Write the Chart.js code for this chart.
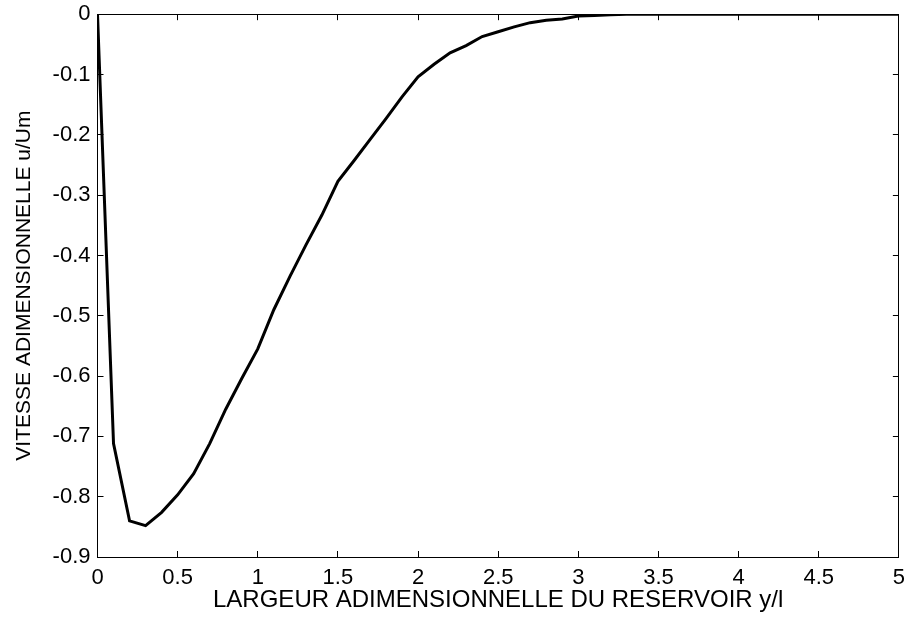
<!DOCTYPE html>
<html>
<head>
<meta charset="utf-8">
<script src="https://cdn.jsdelivr.net/npm/chart.js@4.4.1/dist/chart.umd.min.js"></script>
<style>
html,body{margin:0;padding:0;background:#fff;overflow:hidden;}
#wrap{position:relative;width:907px;height:619px;overflow:hidden;}
#c{position:absolute;left:0;top:-12px;}
</style>
</head>
<body>
<div id="wrap"><canvas id="c" width="919" height="631"></canvas></div>
<script>
const xValues = [0,0.1,0.2,0.3,0.4,0.5,0.6,0.7,0.8,0.9,1.0,1.1,1.2,1.3,1.4,1.5,1.6,1.7,1.8,1.9,2.0,2.1,2.2,2.3,2.4,2.5,2.6,2.7,2.8,2.9,3.0,3.1,3.2,3.3,3.5,4.0,4.5,5.0];
const uValues = [0,-0.712,-0.840,-0.848,-0.826,-0.797,-0.762,-0.712,-0.655,-0.604,-0.555,-0.490,-0.435,-0.383,-0.333,-0.277,-0.243,-0.208,-0.173,-0.137,-0.104,-0.083,-0.064,-0.052,-0.037,-0.029,-0.021,-0.014,-0.010,-0.008,-0.003,-0.002,-0.001,0,0,0,0,0];
const xTicks = [0,0.5,1,1.5,2,2.5,3,3.5,4,4.5,5];
const yTicks = [0,-0.1,-0.2,-0.3,-0.4,-0.5,-0.6,-0.7,-0.8,-0.9];
const xTitle = 'LARGEUR ADIMENSIONNELLE DU RESERVOIR y/l';
const yTitle = 'VITESSE ADIMENSIONNELLE u/Um';

const FONT = 'Liberation Sans, Arial, sans-serif';

const tickGrid = {display: true, drawOnChartArea: false, drawTicks: true, tickLength: -6, color: '#000', lineWidth: 1};
const boxBorder = {display: true, color: '#000', width: 1};

new Chart(document.getElementById('c'), {
  type: 'line',
  data: {
    datasets: [{
      data: xValues.map((x, i) => ({x: x, y: uValues[i]})),
      borderColor: '#000',
      borderWidth: 3,
      pointRadius: 0,
      tension: 0,
      fill: false,
      xAxisID: 'x',
      yAxisID: 'y'
    }]
  },
  options: {
    responsive: false,
    animation: false,
    events: [],
    layout: {padding: {left: 12, right: 0, top: 0, bottom: 0}},
    plugins: {legend: {display: false}, tooltip: {enabled: false}},
    scales: {
      x: {
        type: 'linear', position: 'bottom', min: 0, max: 5,
        afterBuildTicks: s => { s.ticks = xTicks.map(v => ({value: v})); },
        afterFit: s => { s.height = 62; },
        grid: tickGrid,
        border: boxBorder,
        ticks: {color: '#000', font: {family: FONT, size: 22}, padding: 14, maxRotation: 0,
                callback: v => String(v)},
        title: {display: true, text: xTitle, color: '#000', font: {family: FONT, size: 24}, padding: {top: 0, bottom: 4}}
      },
      x2: {
        type: 'linear', position: 'top', min: 0, max: 5,
        afterBuildTicks: s => { s.ticks = xTicks.map(v => ({value: v})); },
        afterFit: s => { s.height = 0; },
        grid: tickGrid,
        border: boxBorder,
        ticks: {display: false}
      },
      y: {
        type: 'linear', position: 'left', min: -0.9, max: 0,
        afterBuildTicks: s => { s.ticks = yTicks.map(v => ({value: v})); },
        afterFit: s => { s.width = 85.5; },
        grid: tickGrid,
        border: boxBorder,
        ticks: {color: '#000', font: {family: FONT, size: 22}, padding: 13,
                callback: v => String(Math.round(v*10)/10)},
        title: {display: true, text: yTitle, color: '#000', font: {family: FONT, size: 21}, padding: {top: 0, bottom: 0}}
      },
      y2: {
        type: 'linear', position: 'right', min: -0.9, max: 0,
        afterBuildTicks: s => { s.ticks = yTicks.map(v => ({value: v})); },
        afterFit: s => { s.width = 0; },
        grid: tickGrid,
        border: boxBorder,
        ticks: {display: false}
      }
    }
  }
});
</script>
</body>
</html>
